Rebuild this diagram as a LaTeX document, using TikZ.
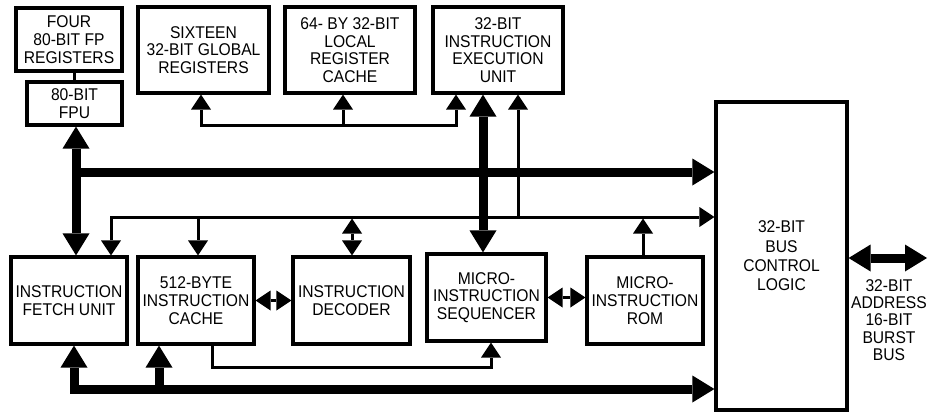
\documentclass[tikz,border=0pt]{standalone}
\usepackage{fontspec}
\setmainfont{Liberation Sans}[FakeStretch=0.92]
\usetikzlibrary{arrows.meta}
\begin{document}
\begin{tikzpicture}[x=1pt,y=-1pt,
  box/.style={draw, line width=3.2pt, inner sep=0pt, align=center,
    font=\fontsize{17}{17.7}\selectfont},
  lbl/.style={inner sep=0pt, align=center, font=\fontsize{17}{17.2}\selectfont},
  thinln/.style={line width=3pt},
  thickln/.style={line width=9pt},
  TipS/.tip={Triangle[length=15pt,width=20pt,line width=0pt]},
  TipL/.tip={Triangle[length=22pt,width=27pt,line width=0pt]}]
\useasboundingbox (0,0) rectangle (928,412);
% boxes
\node[box,minimum width=106pt,minimum height=63pt] (four) at (69,39.5) {FOUR\\80-BIT FP\\REGISTERS};
\node[box,minimum width=95pt,minimum height=43pt] (fpu) at (74.5,103.5) {80-BIT\\FPU};
\node[box,minimum width=131pt,minimum height=86pt] (sixteen) at (203.5,50) {SIXTEEN\\32-BIT GLOBAL\\REGISTERS};
\node[box,minimum width=130pt,minimum height=86pt] (local) at (350,50) {64- BY 32-BIT\\LOCAL\\REGISTER\\CACHE};
\node[box,minimum width=130pt,minimum height=86pt] (exec) at (498,50) {32-BIT\\INSTRUCTION\\EXECUTION\\UNIT};
\node[box,minimum width=116pt,minimum height=87pt] (fetch) at (69,300.5) {INSTRUCTION\\FETCH UNIT};
\node[box,minimum width=116pt,minimum height=87pt] (cache) at (196,300.5) {512-BYTE\\INSTRUCTION\\CACHE};
\node[box,minimum width=117pt,minimum height=87pt] (decoder) at (351.5,300.5) {INSTRUCTION\\DECODER};
\node[box,minimum width=119pt,minimum height=87pt] (seq) at (486.5,297.5) {MICRO-\\INSTRUCTION\\SEQUENCER};
\node[box,minimum width=116pt,minimum height=87pt] (rom) at (645,300.5) {MICRO-\\INSTRUCTION\\ROM};
\node[box,minimum width=131pt,minimum height=308pt,font=\fontsize{17}{19.3}\selectfont] (bus) at (781.5,256) {32-BIT\\BUS\\CONTROL\\LOGIC};
\node[lbl] (buslbl) at (889,320) {32-BIT\\ADDRESS\\16-BIT\\BURST\\BUS};
% FOUR - FPU
\draw[thinln] (fpu.north) -- (fpu.north |- four.south);
% thick vertical FPU <-> fetch and bus at 172
\coordinate (v1) at (76,172);
\draw[thickln,TipL-TipL] (fpu.south -| v1) -- (fetch.north -| v1);
\draw[thickln,-TipL] (v1) -- (v1 -| bus.west);
% thin network y=125
\coordinate (t1) at (201,125);
\coordinate (t2) at (343,125);
\coordinate (t3) at (456,125);
\draw[thinln,TipS-TipS] (t1 |- sixteen.south) -- (t1) -- (t3) -- (t3 |- exec.south);
\draw[thinln,-TipS] (t2) -- (t2 |- local.south);
% thick exec <-> sequencer
\coordinate (x1) at (483,172);
\draw[thickln,TipL-TipL] (exec.south -| x1) -- (seq.north -| x1);
% thin network y=217
\coordinate (m1) at (111,217);
\coordinate (m2) at (198,217);
\coordinate (m3) at (352,218.5);
\coordinate (m4) at (518,217);
\coordinate (m5) at (643,218.5);
\draw[thinln,TipS-TipS] (m1 |- fetch.north) -- (m1) -- (m1 -| bus.west);
\draw[thinln,-TipS] (m2) -- (m2 |- cache.north);
\draw[thinln,TipS-TipS] (m3) -- (m3 |- decoder.north);
\draw[thinln,-TipS] (m4) -- (m4 |- exec.south);
\draw[thinln,-TipS] (m5 |- rom.north) -- (m5);
% horizontal double arrows
\draw[thinln,TipS-TipS] (cache.east) -- (decoder.west);
\draw[thinln,TipS-TipS] (seq.east) -- (seq.east -| rom.west);
% cache -> sequencer
\coordinate (c1) at (212,367);
\coordinate (c2) at (491,367);
\draw[thinln,-TipS] (c1 |- cache.south) -- (c1) -- (c2) -- (c2 |- seq.south);
% thick bottom bus
\coordinate (b1) at (74,389);
\coordinate (b2) at (159,389);
\draw[thickln,TipL-TipL] (b1 |- fetch.south) -- (b1) -- (b1 -| bus.west);
\draw[thickln,-TipL] (b2) -- (b2 |- cache.south);
% external bus
\coordinate (r1) at (927,258);
\draw[thickln,TipL-TipL] (r1 -| bus.east) -- (r1);
\end{tikzpicture}
\end{document}
